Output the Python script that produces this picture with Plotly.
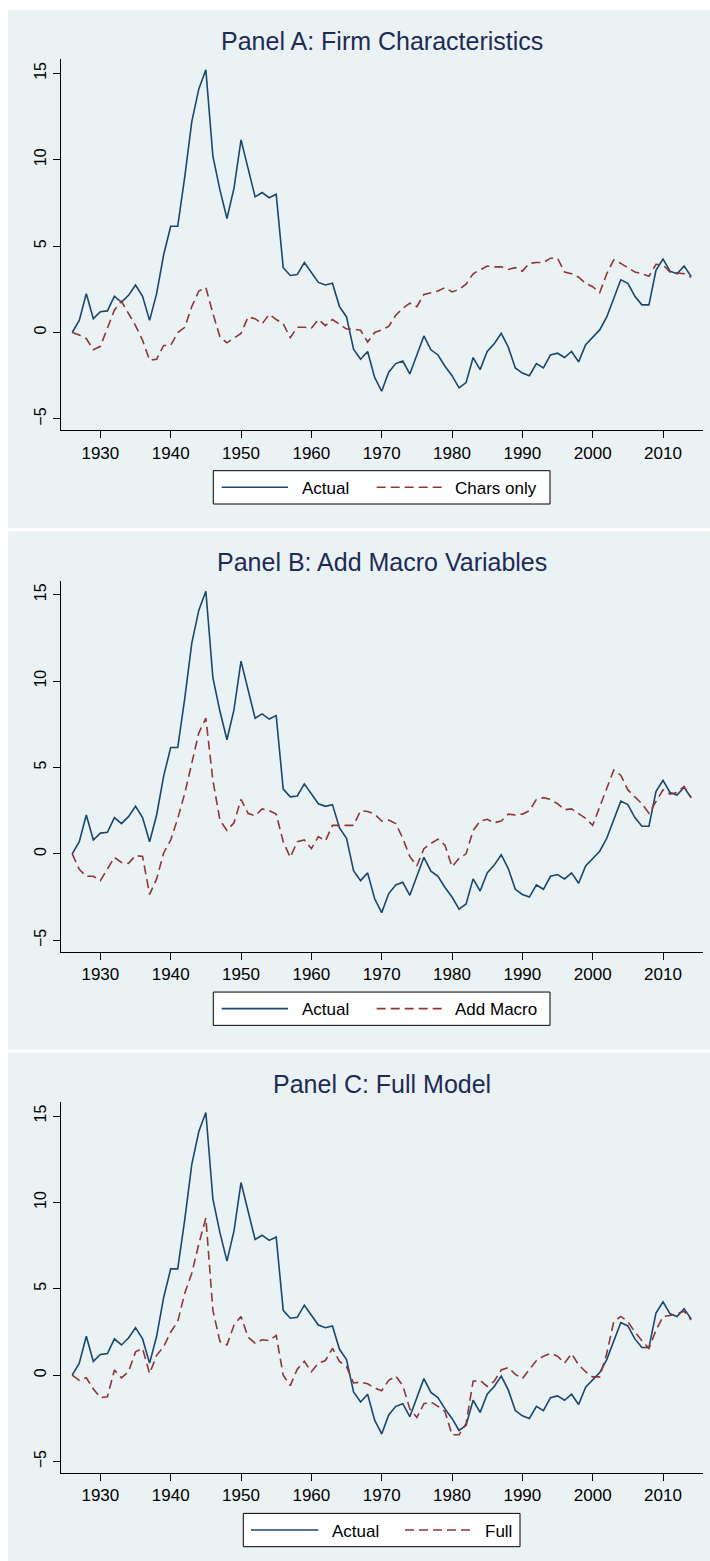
import plotly.graph_objects as go

# ---------------- data ----------------
years = list(range(1926, 2015))

actual = [
    0.00, 0.70, 2.25, 0.80, 1.20, 1.25, 2.10, 1.75, 2.15, 2.75,   # 1926-1935
    2.10, 0.70, 2.25, 4.50, 6.15, 6.15, 9.00, 12.2, 14.1, 15.2,   # 1936-1945
    10.2, 8.25, 6.60, 8.35, 11.15, 9.50, 7.85, 8.10, 7.80, 8.00,  # 1946-1955
    3.75, 3.30, 3.35, 4.05, 3.45, 2.90, 2.75, 2.85, 1.50, 0.90,   # 1956-1965
    -0.97, -1.55, -1.10, -2.60, -3.40, -2.30, -1.80, -1.65, -2.40, -1.30,  # 1966-1975
    -0.20, -1.00, -1.30, -1.95, -2.50, -3.20, -2.90, -1.45, -2.15, -1.10,  # 1976-1985
    -0.65, -0.05, -0.85, -2.05, -2.35, -2.50, -1.80, -2.05, -1.30, -1.20,  # 1986-1995
    -1.45, -1.10, -1.70, -0.70, -0.30, 0.15, 0.90, 1.95, 3.05, 2.85,       # 1996-2005
    2.10, 1.60, 1.60, 3.60, 4.25, 3.55, 3.40, 3.85, 3.25,                  # 2006-2014
]

chars_only = [
    0.00, -0.15, -0.35, -1.00, -0.80, 0.25, 1.30, 1.80, 1.10, 0.40,
    -0.45, -1.60, -1.55, -0.75, -0.75, 0.00, 0.30, 1.50, 2.40, 2.60,
    1.10, -0.25, -0.60, -0.35, -0.05, 0.90, 0.80, 0.50, 1.05, 0.75,
    0.50, -0.30, 0.30, 0.30, 0.25, 0.75, 0.40, 0.75, 0.50, 0.20,
    0.20, 0.13, -0.55, 0.00, 0.15, 0.35, 1.00, 1.40, 1.70, 1.50,
    2.20, 2.30, 2.40, 2.60, 2.35, 2.50, 2.80, 3.40, 3.65, 3.85,
    3.80, 3.80, 3.65, 3.75, 3.55, 4.00, 4.05, 4.05, 4.30, 4.30,
    3.50, 3.40, 3.20, 2.85, 2.65, 2.30, 3.40, 4.20, 4.00, 3.75,
    3.50, 3.40, 3.25, 3.95, 3.90, 3.50, 3.45, 3.40, 3.20,
]

add_macro = [
    0.00, -0.90, -1.30, -1.30, -1.55, -0.85, -0.20, -0.50, -0.55, -0.10,
    -0.15, -2.35, -1.45, 0.05, 0.80, 2.05, 3.50, 5.25, 7.00, 7.85,
    4.25, 1.95, 1.35, 1.80, 3.15, 2.35, 2.20, 2.60, 2.50, 2.30,
    0.70, -0.20, 0.70, 0.80, 0.30, 1.00, 0.75, 1.65, 1.65, 1.65,
    1.65, 2.50, 2.45, 2.30, 1.90, 1.95, 1.75, 0.90, -0.15, -0.70,
    0.30, 0.60, 0.85, 0.50, -0.75, -0.25, 0.00, 1.35, 1.90, 2.00,
    1.80, 1.90, 2.30, 2.25, 2.30, 2.50, 3.15, 3.25, 3.15, 2.90,
    2.55, 2.60, 2.35, 2.05, 1.65, 2.70, 3.80, 4.85, 4.55, 3.70,
    3.30, 2.90, 2.35, 3.00, 3.70, 3.45, 3.55, 3.90, 3.25,
]

full_model = [
    0.00, -0.30, -0.15, -0.80, -1.30, -1.25, 0.30, -0.15, 0.20, 1.35,
    1.55, 0.10, 1.15, 1.65, 2.50, 3.10, 4.75, 5.90, 7.60, 9.10,
    3.75, 1.95, 1.75, 2.90, 3.40, 2.20, 1.85, 2.05, 2.00, 2.30,
    0.00, -0.60, 0.35, 0.80, 0.20, 0.70, 0.85, 1.55, 0.80, 0.50,
    -0.45, -0.40, -0.50, -0.75, -0.90, -0.30, -0.05, -0.60, -1.95, -2.45,
    -1.65, -1.55, -1.80, -2.10, -3.45, -3.45, -2.80, -0.35, -0.30, -0.65,
    -0.35, 0.30, 0.45, 0.05, -0.20, 0.35, 0.85, 1.10, 1.25, 1.10,
    0.70, 1.25, 0.60, 0.20, -0.10, -0.10, 1.25, 3.10, 3.40, 3.10,
    2.50, 2.00, 1.55, 2.60, 3.40, 3.45, 3.55, 3.70, 3.20,
]

panel_titles = ["Panel A: Firm Characteristics",
                "Panel B: Add Macro Variables",
                "Panel C: Full Model"]
model_series = [chars_only, add_macro, full_model]
model_labels = ["Chars only", "Add Macro", "Full"]
actual_label = "Actual"

x_ticks = [1930, 1940, 1950, 1960, 1970, 1980, 1990, 2000, 2010]
y_ticks = [-5, 0, 5, 10, 15]

# ---------------- styling ----------------
W, H = 710, 1561
NAVY = "#1a476f"
MAROON = "#90353b"
BG = "#eaf2f3"
TITLE_C = "#1e2b57"
FONT = "Liberation Sans, Arial, Helvetica, sans-serif"
PANEL_OFF = 521.35


def px(x):
    return x / W


def py(y):
    return 1 - y / H


fig = go.Figure()
shapes = []
annotations = []

# legend geometry per panel (pixels, relative to panel A)
legend_geo = [
    dict(box=(213.3, 550.0), s1=(221.7, 288.0), t1=300.0, s2=(376.7, 443.0), t2=453.3),
    dict(box=(213.3, 550.0), s1=(221.7, 288.0), t1=300.0, s2=(376.7, 443.0), t2=453.3),
    dict(box=(243.3, 520.0), s1=(251.0, 318.3), t1=330.0, s2=(405.0, 473.3), t2=483.3),
]

for k in range(3):
    off = k * PANEL_OFF
    xa = "x" if k == 0 else f"x{k+1}"
    ya = "y" if k == 0 else f"y{k+1}"

    # panel background
    shapes.append(dict(type="rect", xref="paper", yref="paper",
                       x0=px(8), x1=px(710), y0=py(528 + off), y1=py(10 + off),
                       fillcolor=BG, line=dict(width=0), layer="below"))

    fig.add_trace(go.Scatter(x=years, y=actual, mode="lines", name=actual_label,
                             line=dict(color=NAVY, width=1.6),
                             xaxis=xa, yaxis=ya, showlegend=False))
    fig.add_trace(go.Scatter(x=years, y=model_series[k], mode="lines",
                             name=model_labels[k],
                             line=dict(color=MAROON, width=1.6, dash="9px,5px"),
                             xaxis=xa, yaxis=ya, showlegend=False))

    axx = dict(domain=[px(60.7), px(703.3)], range=[1924.36, 2015.73],
               tickvals=x_ticks, ticks="outside", ticklen=7, tickwidth=1,
               tickcolor="black", showline=True, linecolor="black", linewidth=1,
               showgrid=False, zeroline=False,
               tickfont=dict(family=FONT, size=17, color="black"),
               anchor=ya)
    axy = dict(domain=[py(430.3 + off), py(59.3 + off)], range=[-5.66, 15.81],
               tickvals=y_ticks, ticks="outside", ticklen=7, tickwidth=1,
               tickcolor="black", showline=True, linecolor="black", linewidth=1,
               showgrid=True, gridcolor=BG, gridwidth=1.2, zeroline=False,
               tickangle=-90,
               tickfont=dict(family=FONT, size=16, color="black"),
               anchor=xa)
    fig.update_layout(**{("xaxis" if k == 0 else f"xaxis{k+1}"): axx,
                         ("yaxis" if k == 0 else f"yaxis{k+1}"): axy})

    # panel title
    annotations.append(dict(xref="paper", yref="paper", x=px(382), y=py(40.8 + off),
                            text=panel_titles[k], showarrow=False,
                            xanchor="center", yanchor="middle",
                            font=dict(family=FONT, size=25, color=TITLE_C)))

    # legend
    g = legend_geo[k]
    ly = 487.3 + off
    shapes.append(dict(type="rect", xref="paper", yref="paper",
                       x0=px(g["box"][0]), x1=px(g["box"][1]),
                       y0=py(504.0 + off), y1=py(470.7 + off),
                       fillcolor="white", line=dict(color="black", width=1)))
    shapes.append(dict(type="line", xref="paper", yref="paper",
                       x0=px(g["s1"][0]), x1=px(g["s1"][1]), y0=py(ly), y1=py(ly),
                       line=dict(color=NAVY, width=1.6)))
    shapes.append(dict(type="line", xref="paper", yref="paper",
                       x0=px(g["s2"][0]), x1=px(g["s2"][1]), y0=py(ly), y1=py(ly),
                       line=dict(color=MAROON, width=1.6, dash="9px,5px")))
    annotations.append(dict(xref="paper", yref="paper", x=px(g["t1"]), y=py(ly + 1),
                            text=actual_label, showarrow=False,
                            xanchor="left", yanchor="middle",
                            font=dict(family=FONT, size=17, color="black")))
    annotations.append(dict(xref="paper", yref="paper", x=px(g["t2"]), y=py(ly + 1),
                            text=model_labels[k], showarrow=False,
                            xanchor="left", yanchor="middle",
                            font=dict(family=FONT, size=17, color="black")))

fig.update_layout(width=W, height=H, margin=dict(l=0, r=0, t=0, b=0),
                  paper_bgcolor="white", plot_bgcolor="white",
                  shapes=shapes, annotations=annotations, showlegend=False)

fig.write_html("out.html",
               config={"displayModeBar": False},
               post_script="document.body.style.margin='0';"
                           "document.body.style.padding='0';")
